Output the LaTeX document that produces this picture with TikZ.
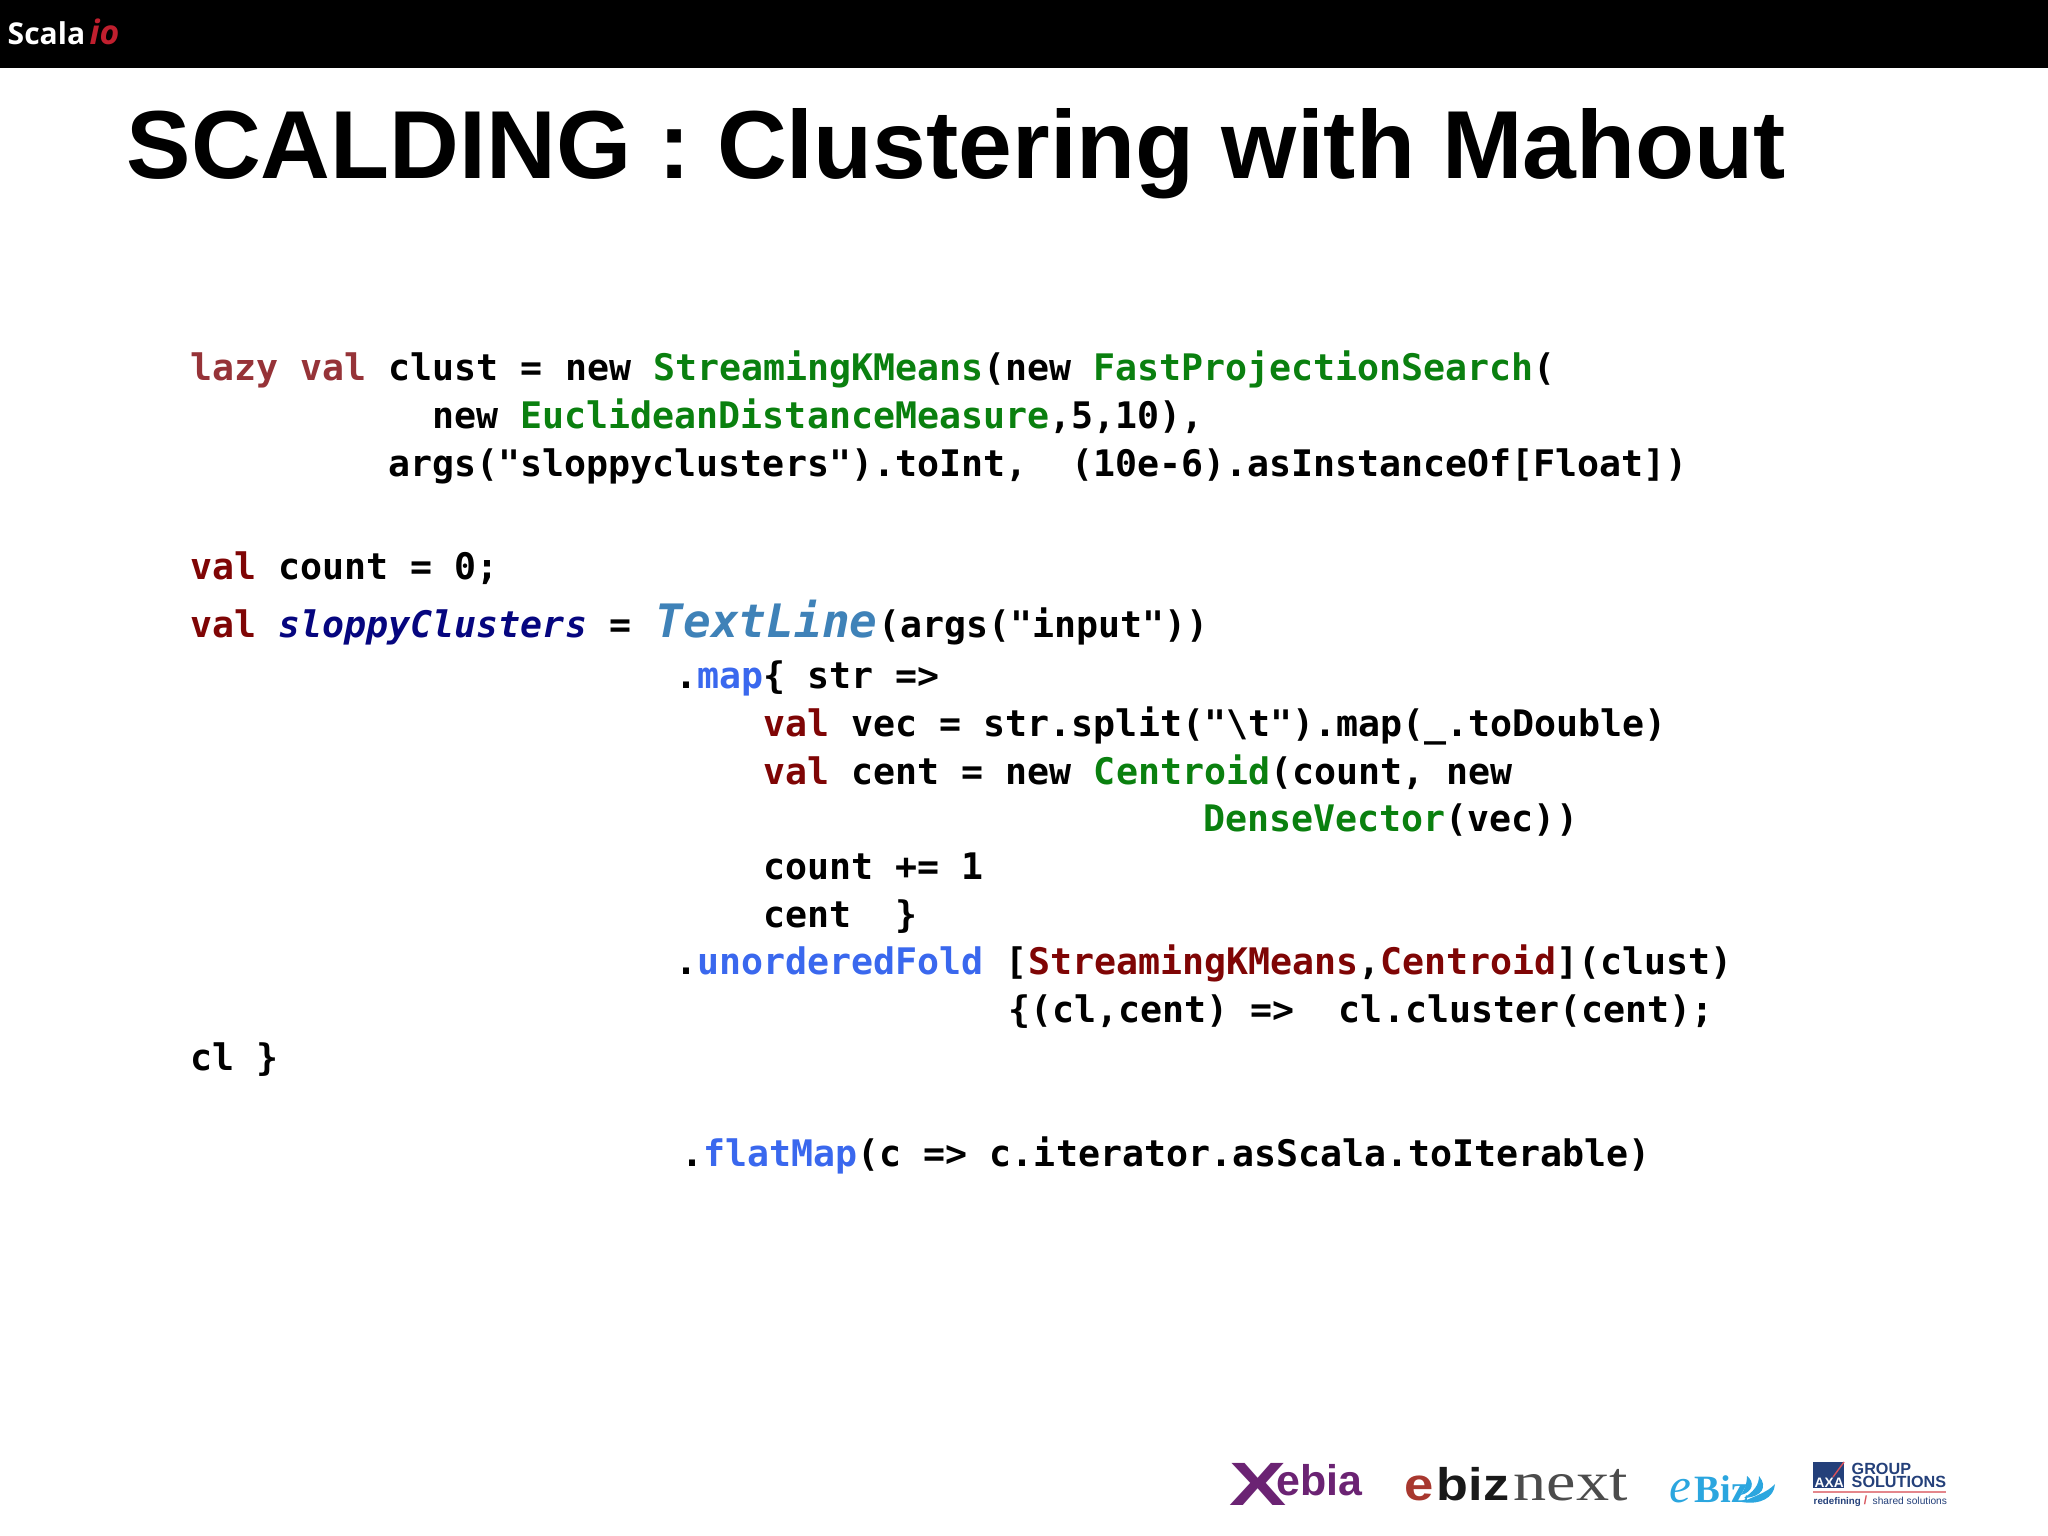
\documentclass[tikz,border=0pt]{standalone}
\usepackage{fontspec}
\setmainfont{Liberation Sans}
\newfontfamily\codefont[BoldFont=DejaVu Sans Mono Bold]{DejaVu Sans Mono}
\newfontfamily\serifthin{Liberation Serif}
\newfontfamily\logofont{Open Sans}
\usepackage{graphicx}
\usepackage{tikz}
\definecolor{keyred}{HTML}{7F0505}
\definecolor{lazyred}{HTML}{963338}
\definecolor{typegreen}{HTML}{0A800F}
\definecolor{methblue}{HTML}{3A68EE}
\definecolor{valnavy}{HTML}{06067F}
\definecolor{linesteel}{HTML}{3F82B8}
\definecolor{scalared}{HTML}{C01F2E}
\definecolor{xebiapurple}{HTML}{6B2373}
\definecolor{ebizred}{HTML}{A8382F}
\definecolor{ebizcyan}{HTML}{2BA6DF}
\definecolor{axablue}{HTML}{24407A}
\definecolor{axared}{HTML}{D8525A}
\newcommand{\kw}[1]{\textcolor{keyred}{#1}}
\newcommand{\ty}[1]{\textcolor{typegreen}{#1}}
\newcommand{\mth}[1]{\textcolor{methblue}{#1}}
\tikzset{
	code/.style={anchor=base west, inner sep=0pt, font=\codefont\bfseries\fontsize{10.4pt}{12pt}\selectfont},
	logo/.style={anchor=base west, inner sep=0pt},
}
\begin{document}
\begin{tikzpicture}[x=0.01cm, y=-0.01cm]
			%%%%% START %%%%%
			\useasboundingbox (0, 0) rectangle (2048, 1536);
			\fill[white] (0, 0) rectangle (2048, 1536);
			\fill[black] (0, 0) rectangle (2048, 68);
			
			\node[logo, text=white, font=\logofont\bfseries\fontsize{8.55pt}{10pt}\selectfont] (scala) at (7, 44) {Scala};
			\node[logo, text=scalared, font=\logofont\bfseries\itshape\fontsize{9.6pt}{10pt}\selectfont] (scalaio) at (89, 44) {io};
			
			\node[anchor=base west, inner sep=0pt, font=\bfseries\fontsize{27.48pt}{30pt}\selectfont] (title) at (126, 178) {SCALDING : Clustering with Mahout};
			
			\node[code] (clust) at (190, 380) {\textcolor{lazyred}{lazy val} clust = new \ty{StreamingKMeans}(new \ty{FastProjectionSearch}(};
			\node[code] (euclid) at (432, 428) {new \ty{EuclideanDistanceMeasure},5,10),};
			\node[code] (sloppyarg) at (388, 476) {args("sloppyclusters").toInt,~ (10e-6).asInstanceOf[Float])};
			
			\node[code] (count) at (190, 579) {\kw{val} count = 0;};
			\node[code] (sloppy) at (190, 637) {\kw{val} \textcolor{valnavy}{\itshape sloppyClusters} =};
			\node[code, text=linesteel, font=\codefont\bfseries\itshape\fontsize{13.1pt}{14pt}\selectfont] (textline) at (655, 637) {TextLine};
			\node[code] (input) at (878, 637) {(args("input"))};
			
			\node[code] (map) at (675, 688) {.\mth{map}\{ str =>};
			\node[code] (vec) at (763, 736) {\kw{val} vec = str.split("\textbackslash t").map(\_.toDouble)};
			\node[code] (cent) at (763, 784) {\kw{val} cent = new \ty{Centroid}(count, new};
			\node[code] (dense) at (1203, 831) {\ty{DenseVector}(vec))};
			\node[code] (incr) at (763, 879) {count += 1};
			\node[code] (centend) at (763, 927) {cent ~\}};
			\node[code] (fold) at (675, 974) {.\mth{unorderedFold} [\kw{StreamingKMeans},\kw{Centroid}](clust)};
			\node[code] (cluster) at (1008, 1022) {\{(cl,cent) =>~ cl.cluster(cent);};
			\node[code] (clend) at (190, 1070) {cl \}};
			\node[code] (flat) at (681, 1166) {.\mth{flatMap}(c => c.iterator.asScala.toIterable)};
			
			%%%%% LOGOS %%%%%
			\node[logo, text=xebiapurple, font=\bfseries\fontsize{17.4pt}{18pt}\selectfont] (xebiax) at (1229, 1505) {\scalebox{1.4}[1]{X}};
			\node[logo, text=xebiapurple, font=\bfseries\fontsize{12.2pt}{14pt}\selectfont] (xebia) at (1276, 1495) {ebia};
			
			\node[logo, text=ebizred, font=\bfseries\fontsize{13pt}{14pt}\selectfont] (ebizfirst) at (1404, 1500) {\scalebox{1.15}[1]{e}};
			\node[logo, text=black!90, font=\bfseries\fontsize{13pt}{14pt}\selectfont] (ebizbold) at (1436, 1500) {\scalebox{1.14}[1]{biz}};
			\node[logo, text=black!70, font=\serifthin\fontsize{15.7pt}{16pt}\selectfont] (ebiznext) at (1513, 1500) {\scalebox{1.2}[1]{next}};
			
			\node[logo, text=ebizcyan, font=\serifthin\itshape\fontsize{14pt}{14pt}\selectfont] (ecursive) at (1669, 1502) {e};
			\node[logo, text=ebizcyan, font=\serifthin\bfseries\fontsize{11pt}{12pt}\selectfont] (ecbiz) at (1694, 1502) {Biz};
			\fill[ebizcyan] (1742, 1502) .. controls (1760, 1505) and (1774, 1498) .. (1775, 1484) .. controls (1768, 1492) and (1755, 1496) .. (1742, 1502);
			\fill[ebizcyan] (1744, 1498) .. controls (1762, 1497) and (1768, 1487) .. (1759, 1476) .. controls (1759, 1485) and (1754, 1491) .. (1744, 1498);
			\fill[ebizcyan] (1741, 1495) .. controls (1753, 1492) and (1755, 1482) .. (1747, 1476) .. controls (1747, 1483) and (1745, 1489) .. (1741, 1495);
			
			\fill[axablue] (1813, 1462) rectangle (1844, 1488);
			\draw[axared, line width=0.4pt] (1833, 1477) -- (1844, 1462);
			\node[logo, text=white, font=\bfseries\fontsize{3.9pt}{4pt}\selectfont] (axa) at (1814, 1487) {AXA};
			\node[logo, text=axablue, font=\bfseries\fontsize{4.6pt}{5pt}\selectfont] (group) at (1851, 1474) {GROUP};
			\node[logo, text=axablue, font=\bfseries\fontsize{4.6pt}{5pt}\selectfont] (solutions) at (1851, 1487) {SOLUTIONS};
			\draw[axared!70, line width=0.3pt] (1813, 1492) -- (1946, 1492);
			\node[logo, text=axablue, font=\bfseries\fontsize{2.77pt}{3pt}\selectfont] (redefining) at (1813, 1504) {redefining};
			\node[logo, text=axared, font=\bfseries\fontsize{3.4pt}{4pt}\selectfont] (slash) at (1863, 1504) {/};
			\node[logo, text=axablue, font=\fontsize{2.9pt}{3pt}\selectfont] (shared) at (1872, 1504) {shared solutions};
			%%%%% END %%%%%
		\end{tikzpicture}
\end{document}
